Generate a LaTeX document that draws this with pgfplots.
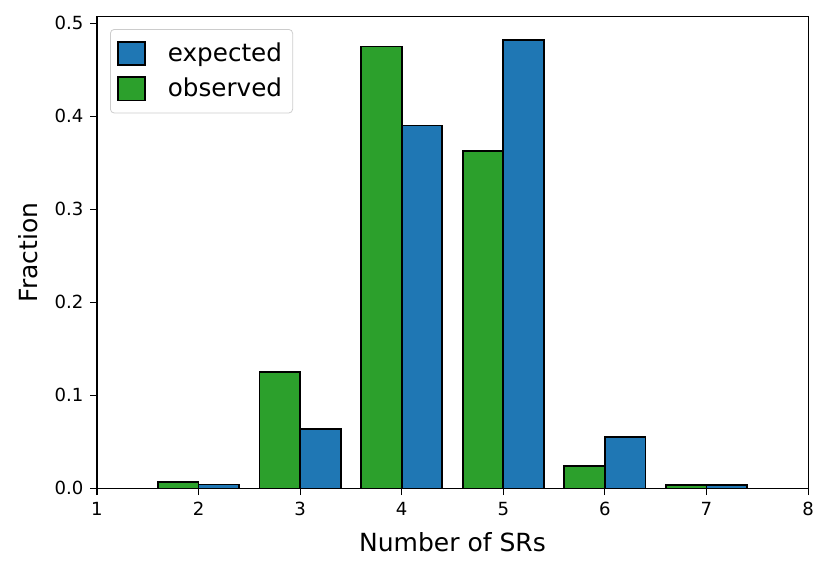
\documentclass[border=0pt]{standalone}
\usepackage{pgfplots}
\pgfplotsset{compat=1.18}
\usepackage{fontspec}
\setmainfont{DejaVu Sans}
\definecolor{mblue}{HTML}{1F77B4}
\definecolor{mgreen}{HTML}{2CA02C}
\begin{document}
\begin{tikzpicture}
\begin{axis}[
  scale only axis,
  width=369.7pt, height=245.2pt,
  xmin=1, xmax=8, ymin=0, ymax=0.507,
  xtick={1,2,3,4,5,6,7,8},
  ytick={0,0.1,0.2,0.3,0.4,0.5},
  yticklabel style={/pgf/number format/fixed,/pgf/number format/fixed zerofill,/pgf/number format/precision=1},
  /pgf/number format/assume math mode=true,
  tick align=outside,
  major tick length=3.5pt,
  tick style={black, line width=0.6pt},
  xtick pos=bottom, ytick pos=left,
  axis line style={line width=0.6pt},
  ticklabel style={font=\fontsize{9.4}{11}\selectfont},
  xlabel={Number of SRs},
  ylabel={Fraction},
  xlabel style={at={(axis description cs:0.5,0)}, anchor=center, yshift=-27.8pt, font=\fontsize{13}{15}\selectfont},
  every axis y label/.style={at={(axis description cs:-0.0974,0.5)}, rotate=90, anchor=center, font=\fontsize{13}{15}\selectfont},
  legend style={at={(axis description cs:0,1)}, anchor=north west, xshift=6.8pt, yshift=-6.4pt,
     draw=black!20, rounded corners=2pt, font=\fontsize{12.8}{15}\selectfont,
     inner xsep=3.5pt, inner ysep=5pt, row sep=3pt},
  legend cell align=left,
  legend image code/.code={\draw[#1, line width=0.8pt, sharp corners] (0pt,-6pt) rectangle (14pt,6pt); \path[draw=none,fill=none] (0pt,0pt) -- (24pt,0pt);},
  clip=true,
]
\addplot[ybar, bar width=0.4, bar shift=0.2, fill=mblue, draw=black, line width=0.9pt]
  coordinates {(2,0.0043) (3,0.064) (4,0.390) (5,0.482) (6,0.055) (7,0.0035)};
\addlegendentry{expected}
\addplot[ybar, bar width=0.4, bar shift=-0.2, fill=mgreen, draw=black, line width=0.9pt]
  coordinates {(2,0.0072) (3,0.1255) (4,0.475) (5,0.363) (6,0.024) (7,0.0035)};
\addlegendentry{observed}
\end{axis}
\pgfresetboundingbox
\path ([xshift=-50.4pt,yshift=-43.5pt]current axis.south west) rectangle ([xshift=11.4pt,yshift=8.7pt]current axis.north east);
\end{tikzpicture}
\end{document}
